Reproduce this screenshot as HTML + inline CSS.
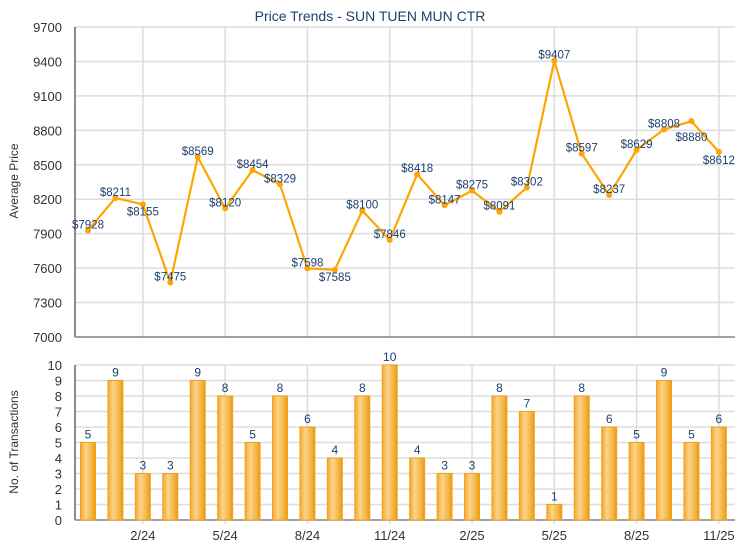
<!DOCTYPE html>
<html><head><meta charset="utf-8"><style>html,body{margin:0;padding:0;background:#fff}svg{display:block}</style></head>
<body>
<svg width="740" height="550" xmlns="http://www.w3.org/2000/svg" font-family="Liberation Sans, Arial, sans-serif">
<defs>
<linearGradient id="bg" x1="0" x2="1" y1="0" y2="0">
<stop offset="0" stop-color="#f0a830"/><stop offset="0.35" stop-color="#fcd48a"/><stop offset="0.75" stop-color="#f5b445"/><stop offset="1" stop-color="#e89a10"/>
</linearGradient>
</defs>
<rect width="740" height="550" fill="#fff"/>
<text x="370" y="21" text-anchor="middle" font-size="14" fill="#1e3f6e">Price Trends - SUN TUEN MUN CTR</text>
<g id="gtop"></g>
<g id="gbot"></g>
<text transform="translate(18,181) rotate(-90)" text-anchor="middle" font-size="12" fill="#333">Average Price</text>
<text transform="translate(18,442) rotate(-90)" text-anchor="middle" font-size="12" fill="#333">No. of Transactions</text>
</svg>
<script>
(function(){
var NS="http://www.w3.org/2000/svg";
function el(p,t,a,txt){var e=document.createElementNS(NS,t);for(var k in a)e.setAttribute(k,a[k]);if(txt!=null)e.textContent=txt;p.appendChild(e);return e;}
var gt=document.getElementById('gtop'),gb=document.getElementById('gbot');
var X0=75,X1=735,T0=27,T1=337,B0=365,B1=520;
function px(i){return 88+27.43*i;}
var pr=[7928,8211,8155,7475,8569,8120,8454,8329,7598,7585,8100,7846,8418,8147,8275,8091,8302,9407,8597,8237,8629,8808,8880,8612];
var cnt=[5,9,3,3,9,8,5,8,6,4,8,10,4,3,3,8,7,1,8,6,5,9,5,6];
function py(v){return T0+(9700-v)/2700*(T1-T0);}
function by(v){return B1-v*(B1-B0)/10;}
for(var v=7000;v<=9700;v+=300){var y=py(v);el(gt,'line',{x1:X0,x2:X1,y1:y,y2:y,stroke:'#ddd','stroke-width':1.5});el(gt,'text',{x:62,y:y+5,'text-anchor':'end','font-size':13,fill:'#333'},v);}
for(var v=0;v<=10;v++){var y=by(v);el(gb,'line',{x1:X0,x2:X1,y1:y,y2:y,stroke:'#ddd','stroke-width':1.5});el(gb,'text',{x:62,y:y+5,'text-anchor':'end','font-size':13,fill:'#333'},v);}
var ticks=['2/24','5/24','8/24','11/24','2/25','5/25','8/25','11/25'];
ticks.forEach(function(t,k){var x=px(2+3*k);el(gt,'line',{x1:x,x2:x,y1:T0,y2:T1,stroke:'#ddd','stroke-width':1.5});el(gb,'line',{x1:x,x2:x,y1:B0,y2:B1+4,stroke:'#ddd','stroke-width':1.5});el(gb,'text',{x:x,y:540,'text-anchor':'middle','font-size':13,fill:'#333'},t);});
el(gt,'line',{x1:X0,x2:X0,y1:T0,y2:T1,stroke:'#666','stroke-width':1.5});
el(gt,'line',{x1:X0,x2:X1,y1:T1,y2:T1,stroke:'#888','stroke-width':1.5});
el(gb,'line',{x1:X0,x2:X0,y1:B0,y2:B1,stroke:'#666','stroke-width':1.5});
el(gb,'line',{x1:X0,x2:X1,y1:B1,y2:B1,stroke:'#888','stroke-width':1.5});
el(gt,'polyline',{points:pr.map(function(v,i){return px(i)+','+py(v);}).join(' '),fill:'none',stroke:'#ffa500','stroke-width':2.2,'stroke-linejoin':'round'});
var dy={2:11,9:11,22:20,23:12};
pr.forEach(function(v,i){el(gt,'circle',{cx:px(i),cy:py(v),r:3,fill:'#ffa500'});el(gt,'text',{x:px(i),y:py(v)+(dy[i]!=null?dy[i]:-2),'text-anchor':'middle','font-size':11.5,fill:'#1e3f6e'},'$'+v);});
cnt.forEach(function(c,i){var x=px(i)-7.5,y=by(c);el(gb,'rect',{x:x,y:y,width:15,height:B1-y,fill:'url(#bg)',stroke:'#f2a21a','stroke-width':1});el(gb,'text',{x:px(i),y:y-4,'text-anchor':'middle','font-size':12,fill:'#1e3f6e'},c);});
})();
</script>
</body></html>
